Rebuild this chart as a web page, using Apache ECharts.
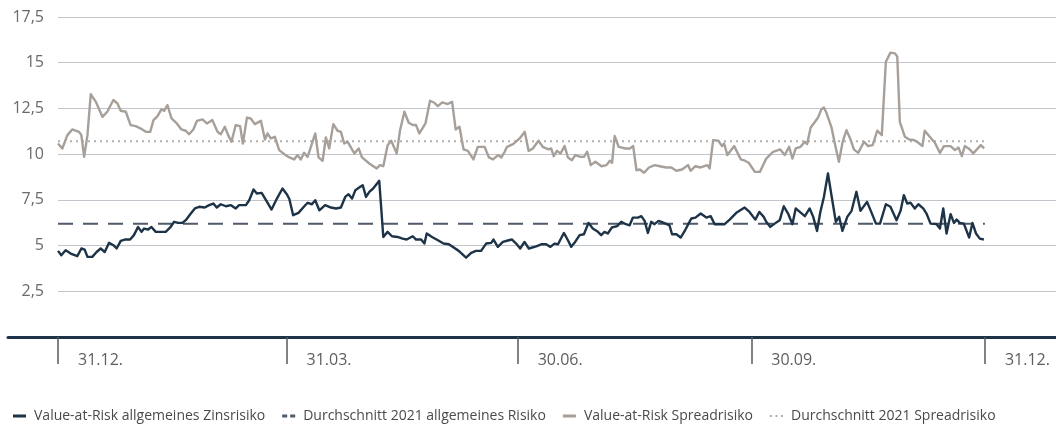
<!DOCTYPE html>
<html>
<head>
<meta charset="utf-8">
<script src="https://cdn.jsdelivr.net/npm/echarts@6/dist/echarts.min.js"></script>
<style>
html,body{margin:0;padding:0;background:#fff;}
#chart{width:1056px;height:430px;}
</style>
</head>
<body>
<div id="chart"></div>
<script>
// x positions are day offsets from 31.12.2020
var tickDays = [0, 90, 181, 273, 365];
var tickLabels = ['31.12.', '31.03.', '30.06.', '30.09.', '31.12.'];
var yTicks = [0, 2.5, 5, 7.5, 10, 12.5, 15, 17.5];

var zinsDays = [0,1.3,3.0,5.0,7.6,9.2,10.5,11.6,13.5,15.2,16.8,18.4,20.1,21.8,23.1,24.7,26.3,28.4,29.9,31.5,32.9,33.9,35.5,36.8,38.5,40.7,42.4,44.2,45.7,47.3,49.0,50.3,52.3,53.9,55.6,57.8,59.5,61.2,62.5,64.1,66.1,68.1,70.0,71.3,74.0,75.3,77.0,78.3,80.2,81.9,84.1,86.2,88.4,90.1,91.1,92.6,94.7,97.0,98.3,100.0,101.3,102.9,105.2,107.5,109.5,111.4,113.1,114.4,115.8,117.1,118.6,120.0,121.3,122.6,124.1,126.5,128.1,129.8,131.5,133.7,135.7,137.3,139.7,141.0,143.0,144.3,145.2,147.3,149.6,151.8,153.9,155.4,157.8,160.7,162.7,164.6,166.6,168.6,170.6,171.5,173.2,175.2,177.5,178.8,180.4,182.0,183.7,185.4,188.3,190.3,192.2,193.9,195.5,196.9,199.2,200.8,202.1,203.4,205.4,207.1,208.9,210.6,212.6,213.9,215.2,216.5,218.1,220.2,221.8,223.1,225.1,226.4,228.4,229.7,231.0,232.3,233.6,234.9,236.5,238.6,240.8,241.8,243.5,245.2,246.8,248.3,249.4,251.0,253.1,255.3,257.0,258.6,260.6,262.5,264.5,267.1,270.4,272.3,274.6,276.2,277.9,278.9,280.5,282.2,284.2,285.8,287.5,289.2,290.5,292.1,294.1,296.0,297.4,298.9,300.2,301.6,303.2,304.9,306.3,307.6,308.9,310.8,312.5,314.4,316.0,318.6,320.4,322.1,323.7,326.0,327.8,330.2,331.8,333.1,334.4,335.7,337.4,338.8,340.7,342.0,343.6,346.0,347.3,348.6,349.9,351.5,352.8,353.9,355.1,356.7,358.8,360.1,361.5,363.0,364.6];
var zinsValues = [4.71,4.47,4.74,4.56,4.42,4.84,4.78,4.38,4.38,4.65,4.84,4.65,5.15,5.02,4.84,5.26,5.33,5.33,5.57,6.02,5.75,5.93,5.88,6.02,5.75,5.75,5.75,5.99,6.30,6.24,6.24,6.39,6.75,7.03,7.12,7.08,7.21,7.30,7.08,7.26,7.15,7.21,7.03,7.21,7.21,7.48,8.07,7.85,7.88,7.48,6.97,7.57,8.12,7.81,7.55,6.66,6.79,7.15,7.34,7.26,7.48,6.93,7.21,7.08,7.03,7.08,7.66,7.81,7.57,8.03,8.17,8.30,7.66,7.94,8.12,8.54,5.47,5.75,5.51,5.47,5.38,5.33,5.51,5.33,5.33,5.11,5.66,5.47,5.29,5.11,5.07,4.93,4.71,4.34,4.60,4.71,4.71,5.11,5.15,5.33,4.93,5.20,5.29,5.33,5.11,4.84,5.20,4.84,4.96,5.07,5.07,4.93,5.11,5.07,5.69,5.29,4.93,5.15,5.57,5.62,6.24,5.93,5.75,5.57,5.75,5.66,5.99,6.06,6.30,6.20,6.11,6.53,6.53,6.61,6.35,5.69,6.30,6.17,6.35,6.24,6.11,5.62,5.62,5.44,5.80,6.20,6.48,6.53,6.75,6.53,6.61,6.17,6.17,6.17,6.42,6.79,7.08,6.84,6.42,6.84,6.57,6.30,6.02,6.20,6.39,7.15,6.75,6.17,7.03,6.84,6.61,7.03,6.57,5.80,6.84,7.66,8.94,7.48,6.30,6.57,5.80,6.57,6.90,7.94,6.90,7.39,6.79,6.20,6.20,7.26,7.12,6.39,6.90,7.76,7.30,7.34,7.03,7.26,7.03,6.75,6.20,6.17,5.93,7.03,5.66,6.72,6.24,6.42,6.24,6.20,5.44,6.24,5.66,5.38,5.33];

var spreadDays = [0,1.7,3.7,5.6,8.3,9.2,10.3,11.6,12.9,14.9,17.5,19.4,21.8,23.4,24.7,26.7,28.6,30.6,32.6,34.6,36.3,37.6,39.2,40.7,41.8,43.1,44.7,46.8,48.6,50.3,51.6,53.3,54.7,56.9,58.6,60.8,62.8,64.1,65.7,67.0,68.3,70.0,71.7,72.8,74.4,75.9,77.5,79.9,81.5,82.5,83.8,85.4,87.1,89.1,91.1,93.0,94.3,95.6,96.9,98.3,100.0,101.3,102.6,104.2,105.5,106.8,108.4,110.1,111.4,112.7,114.0,116.7,118.4,119.7,122.6,125.5,126.8,128.1,129.8,131.2,133.4,134.7,136.4,138.1,139.7,141.0,142.3,144.7,146.5,148.2,149.6,151.3,153.5,155.2,156.6,158.1,159.7,161.4,163.6,165.3,168.0,169.7,171.3,173.3,174.6,175.9,176.8,179.2,181.8,183.8,185.3,187.0,189.2,190.9,193.1,194.2,195.2,196.5,197.9,199.5,200.8,202.4,203.7,205.8,207.1,208.4,209.8,211.6,214.0,216.0,217.3,218.2,219.2,220.8,223.5,225.2,226.5,227.8,229.1,230.8,232.7,235.0,237.0,239.5,241.5,243.5,245.7,248.1,249.1,251.0,253.1,255.7,256.6,258.0,260.0,261.5,262.3,263.6,266.3,268.9,270.5,272.0,274.4,276.4,278.9,281.6,284.4,286.2,287.9,289.2,290.5,292.4,294.1,295.0,296.4,298.1,299.3,300.6,301.6,302.6,304.6,305.9,307.5,309.0,310.5,312.1,313.4,315.1,317.4,319.0,320.8,322.6,324.4,326.0,327.8,329.6,330.5,331.5,333.5,335.2,337.0,338.8,340.4,341.3,343.3,345.3,347.3,348.9,351.5,353.2,354.6,355.9,357.1,359.1,360.4,363.4,364.7];
var spreadValues = [10.58,10.31,11.04,11.35,11.22,11.04,9.85,11.04,13.28,12.86,12.04,12.32,12.96,12.77,12.37,12.32,11.59,11.53,11.40,11.22,11.22,11.86,12.08,12.45,12.37,12.68,11.95,11.68,11.35,11.28,11.09,11.35,11.82,11.90,11.68,11.86,11.22,11.09,11.50,11.04,10.68,11.59,11.53,10.58,12.00,11.95,11.64,11.82,10.80,11.13,10.86,10.95,10.22,10.00,9.82,9.71,9.95,9.71,10.07,9.85,10.58,11.13,9.82,9.64,10.91,10.31,11.64,11.28,11.22,10.58,10.68,10.04,10.31,9.82,9.49,9.22,9.40,9.34,10.49,10.73,10.04,11.31,12.32,11.72,11.59,11.59,11.13,11.68,12.92,12.81,12.63,12.83,12.74,12.86,11.35,11.50,10.26,10.18,9.71,10.40,10.40,9.82,9.71,9.95,9.82,10.13,10.40,10.55,10.86,11.22,10.18,10.31,10.73,10.40,10.26,10.31,9.89,10.18,10.04,10.44,9.82,9.67,9.95,9.85,9.85,10.13,9.40,9.58,9.34,9.40,9.64,9.53,10.99,10.40,10.31,10.31,10.44,9.12,9.16,8.98,9.27,9.40,9.34,9.27,9.27,9.09,9.16,9.40,9.09,9.34,9.27,9.40,9.22,10.77,10.73,10.44,10.58,9.95,10.44,9.71,9.64,9.53,9.03,9.03,9.76,10.13,10.26,9.95,10.40,9.76,10.31,10.40,10.68,10.55,11.46,11.77,12.00,12.45,12.55,12.26,11.46,10.58,9.58,10.68,11.31,10.80,10.26,10.07,10.68,10.44,10.49,11.28,11.04,15.05,15.55,15.51,15.33,11.77,10.95,10.80,10.77,10.62,10.44,11.28,10.95,10.62,10.07,10.44,10.44,10.22,10.36,9.89,10.44,10.26,10.04,10.49,10.31];

var avgDays = [0, 365];
var avgZins = 6.2;
var avgSpread = 10.7;

function zip(xs, ys) { return xs.map(function (x, i) { return [x, ys[i]]; }); }

var FONT = 'Open Sans';
var ICON_SOLID = 'path://M0,0H13V3H0Z';
var ICON_DASH = 'path://M0,0H5V3H0Z M8,0H13V3H8Z';
var ICON_DOT = 'path://M0,0.5H2V2.5H0Z M5.5,0.5H7.5V2.5H5.5Z M11,0.5H13V2.5H11Z';

var chart = echarts.init(document.getElementById('chart'), null, {renderer: 'canvas'});
chart.setOption({
  animation: false,
  textStyle: {fontFamily: FONT},
  grid: [
    {left: 58, right: 0, top: 17, bottom: 93, containLabel: false},
    {left: 8, right: 0, top: 17, bottom: 93, containLabel: false}
  ],
  xAxis: [
    {
      type: 'value', gridIndex: 0, min: 0, max: 393,
      axisLine: {show: false},
      splitLine: {show: false},
      axisTick: {show: true, customValues: tickDays, length: 27, lineStyle: {color: '#5a5a5a', width: 1.5}},
      axisLabel: {
        show: true, customValues: tickDays, align: 'left', margin: 15,
        padding: [0, 0, 0, 20], color: '#5e5e5e', fontSize: 16, fontFamily: FONT,
        formatter: function (v) { var i = tickDays.indexOf(v); return i >= 0 ? tickLabels[i] : ''; }
      }
    },
    {
      type: 'value', gridIndex: 1, min: 0, max: 1,
      axisLine: {show: true, onZero: false, lineStyle: {color: '#1d3347', width: 3}},
      axisTick: {show: false}, axisLabel: {show: false}, splitLine: {show: false}
    }
  ],
  yAxis: [
    {
      type: 'value', gridIndex: 0, min: 0, max: 17.5, interval: 2.5,
      axisLine: {show: false}, axisTick: {show: false},
      splitLine: {show: true, lineStyle: {color: '#c2c5cc', width: 1.2}},
      axisLabel: {
        margin: 14, color: '#6a6a6a', fontSize: 16, fontFamily: FONT,
        formatter: function (v) { return v === 0 ? '' : String(v).replace('.', ','); }
      }
    },
    {type: 'value', gridIndex: 1, min: 0, max: 1, show: false}
  ],
  legend: {
    left: 8, top: 404, itemWidth: 13, itemHeight: 3, itemGap: 17,
    textStyle: {fontSize: 14, color: '#4a4a4a', fontFamily: FONT, padding: [0, 0, 0, 3]},
    data: [
      {name: 'Value-at-Risk allgemeines Zinsrisiko', icon: ICON_SOLID, itemStyle: {color: '#1d3347'}},
      {name: 'Durchschnitt 2021 allgemeines Risiko', icon: ICON_DASH, itemStyle: {color: '#4f5a6b'}},
      {name: 'Value-at-Risk Spreadrisiko', icon: ICON_SOLID, itemStyle: {color: '#a79f99'}},
      {name: 'Durchschnitt 2021 Spreadrisiko', icon: ICON_DOT, itemStyle: {color: '#b7afa9'}}
    ]
  },
  series: [
    {
      name: 'Value-at-Risk allgemeines Zinsrisiko', type: 'line', xAxisIndex: 0, yAxisIndex: 0,
      data: zip(zinsDays, zinsValues), symbol: 'none', z: 4,
      itemStyle: {color: '#1d3347'}, lineStyle: {color: '#1d3347', width: 2.4, join: 'round'}
    },
    {
      name: 'Durchschnitt 2021 allgemeines Risiko', type: 'line', xAxisIndex: 0, yAxisIndex: 0,
      data: zip(avgDays, [avgZins, avgZins]), symbol: 'none', z: 3,
      itemStyle: {color: '#4f5a6b'}, lineStyle: {color: '#4f5a6b', width: 2, type: [15, 10]}
    },
    {
      name: 'Value-at-Risk Spreadrisiko', type: 'line', xAxisIndex: 0, yAxisIndex: 0,
      data: zip(spreadDays, spreadValues), symbol: 'none', z: 4,
      itemStyle: {color: '#a79f99'}, lineStyle: {color: '#a79f99', width: 2.4, join: 'round'}
    },
    {
      name: 'Durchschnitt 2021 Spreadrisiko', type: 'line', xAxisIndex: 0, yAxisIndex: 0,
      data: zip(avgDays, [avgSpread, avgSpread]), symbol: 'none', z: 3,
      itemStyle: {color: '#b7afa9'}, lineStyle: {color: '#b7afa9', width: 2, type: [2, 4]}
    }
  ]
});
</script>
</body>
</html>
